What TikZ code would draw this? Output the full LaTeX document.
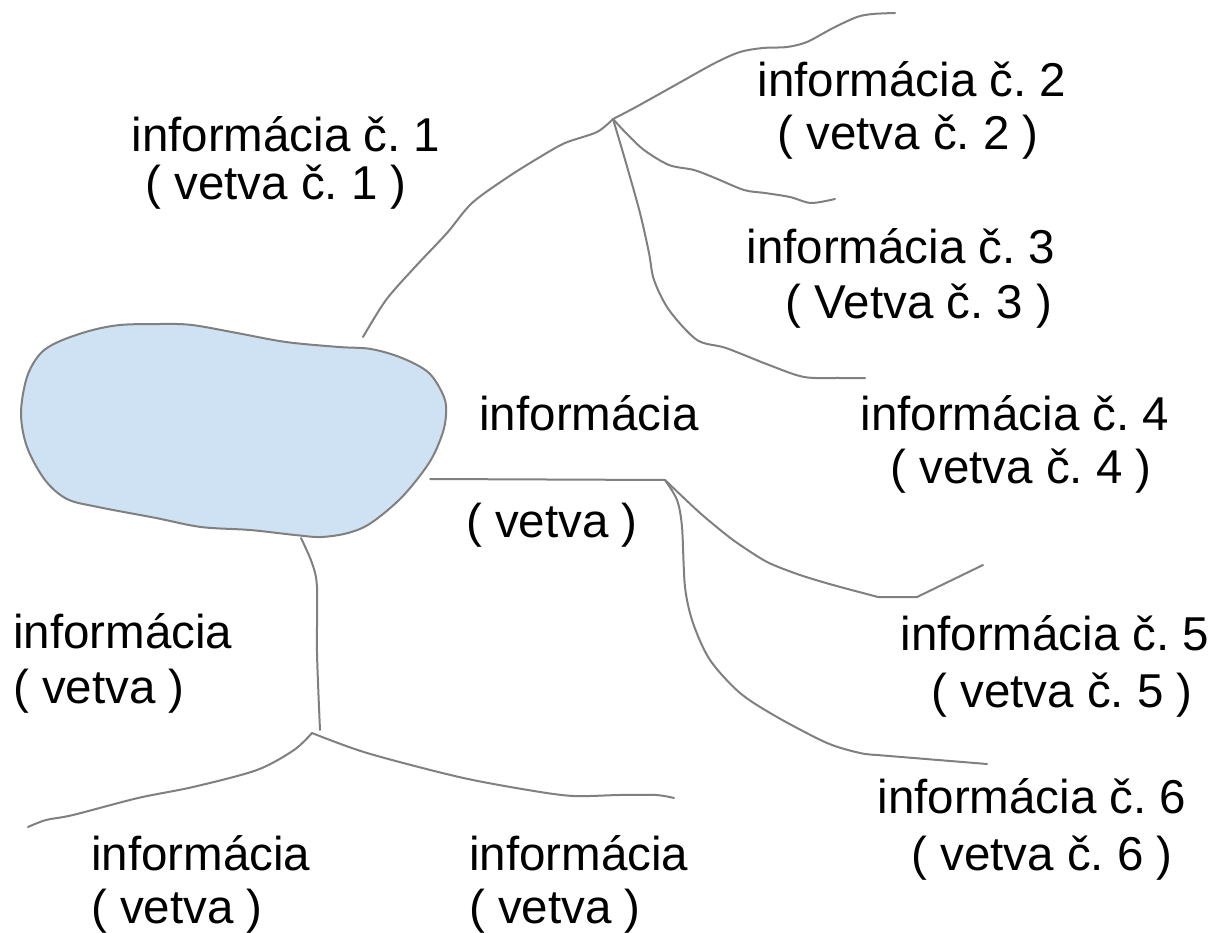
\documentclass[tikz,border=0pt]{standalone}
\usepackage{fontspec}
\setmainfont{Liberation Sans}
\frenchspacing
\definecolor{linegray}{RGB}{128,128,128}
\definecolor{blobfill}{RGB}{207,226,243}
\begin{document}
\begin{tikzpicture}[x=1pt,y=-1pt,
  branch/.style={draw=linegray,line width=2pt,line join=round,line cap=round},
  blobshape/.style={draw=linegray,line width=2pt,fill=blobfill},
  lbl/.style={font=\fontsize{47.5}{55}\selectfont\frenchspacing,inner sep=0pt,anchor=base,text=black},
  lblw/.style={lbl,anchor=base west}]
\useasboundingbox (0,0) rectangle (1225,933);
\fill[white] (0,0) rectangle (1225,933);

% central blob
\draw[blobshape] plot[smooth cycle,tension=0.55] coordinates {
 (58,342) (89,331) (120,325) (160,324) (192,325) (237,333) (286,342)
 (339,347) (371,349) (402,358) (429,373) (444,397) (446,415) (442,435)
 (429,463) (402,497) (371,523) (348,533) (321,537) (295,535) (250,530)
 (201,527) (156,518) (98,507) (67,499) (45,480) (27,447) (21,413)
 (27,377) (40,354)};

% named points
\coordinate (b1) at (363,337);
\coordinate (J1) at (613,119);
\coordinate (e1) at (895,13);
\coordinate (e2) at (835,199);
\coordinate (e3) at (865,378);
\coordinate (b2) at (430,479);
\coordinate (J2) at (665,480);
\coordinate (e4) at (983,565);
\coordinate (e5) at (987,764);
\coordinate (b3) at (301,538);
\coordinate (v3) at (320,730);
\coordinate (J3) at (312,733);
\coordinate (e6) at (28,827);
\coordinate (e7) at (674,798);

% upper branch
\draw[branch] plot[smooth,tension=0.5] coordinates {
 (b1) (386,300) (415,267) (447,233) (472,203) (508,177) (540,157)
 (565,143) (597,132) (J1)};
\draw[branch] plot[smooth,tension=0.5] coordinates {
 (J1) (636,107) (679,83) (715,63) (740,52) (763,48) (787,47) (807,42)
 (833,28) (857,17) (873,14) (e1)};
\draw[branch] plot[smooth,tension=0.5] coordinates {
 (J1) (626,133) (644,150) (669,165) (694,170) (715,178) (744,190)
 (765,193) (790,197) (811,203) (e2)};
\draw[branch] plot[smooth,tension=0.5] coordinates {
 (J1) (626,163) (640,213) (649,253) (654,280) (669,310) (697,340)
 (726,348) (769,365) (804,377) (840,378) (e3)};

% middle branch
\draw[branch] (b2) -- (J2);
\draw[branch] plot[smooth,tension=0.4] coordinates {
 (J2) (700,513) (733,540) (767,562) (800,575) (833,585) (878,597)}
 -- (917,597) -- (e4);
\draw[branch] plot[smooth,tension=0.5] coordinates {
 (J2) (677,500) (682,527) (685,587) (693,623) (710,660) (740,693)
 (777,717) (827,743) (860,753) (877,755)} -- (e5);

% lower branch
\draw[branch] plot[smooth,tension=0.5] coordinates {
 (b3) (312,563) (317,587) (317,653) (v3)};
\draw[branch] plot[smooth,tension=0.5] coordinates {
 (J3) (294,750) (257,770) (193,787) (138,798) (73,815) (46,820) (e6)};
\draw[branch] plot[smooth,tension=0.5] coordinates {
 (J3) (367,753) (459,777) (528,790) (573,796) (619,795) (656,795) (e7)};

% labels
\node[lbl] (t1a) at (286,152) {informácia č. 1};
\node[lbl] (t1b) at (276,200) {( vetva č. 1 )};
\node[lbl] (t2a) at (912,97) {informácia č. 2};
\node[lbl] (t2b) at (908,150) {( vetva č. 2 )};
\node[lbl] (t3a) at (901,263) {informácia č. 3};
\node[lbl] (t3b) at (919,318) {( Vetva č. 3 )};
\node[lbl] (t4a) at (1015,430) {informácia č. 4};
\node[lbl] (t4b) at (1021,483) {( vetva č. 4 )};
\node[lbl] (tma) at (589,430) {informácia};
\node[lbl] (tmb) at (552,537) {( vetva )};
\node[lbl] (t5a) at (1055,650) {informácia č. 5};
\node[lbl] (t5b) at (1062,707) {( vetva č. 5 )};
\node[lbl] (t6a) at (1032,813) {informácia č. 6};
\node[lbl] (t6b) at (1042,870) {( vetva č. 6 )};
\node[lblw] (tla) at (13,648) {informácia};
\node[lblw] (tlb) at (13,703) {( vetva )};
\node[lblw] (tba) at (91,870) {informácia};
\node[lblw] (tbb) at (91,923) {( vetva )};
\node[lblw] (tca) at (469,870) {informácia};
\node[lblw] (tcb) at (469,923) {( vetva )};
\end{tikzpicture}
\end{document}
